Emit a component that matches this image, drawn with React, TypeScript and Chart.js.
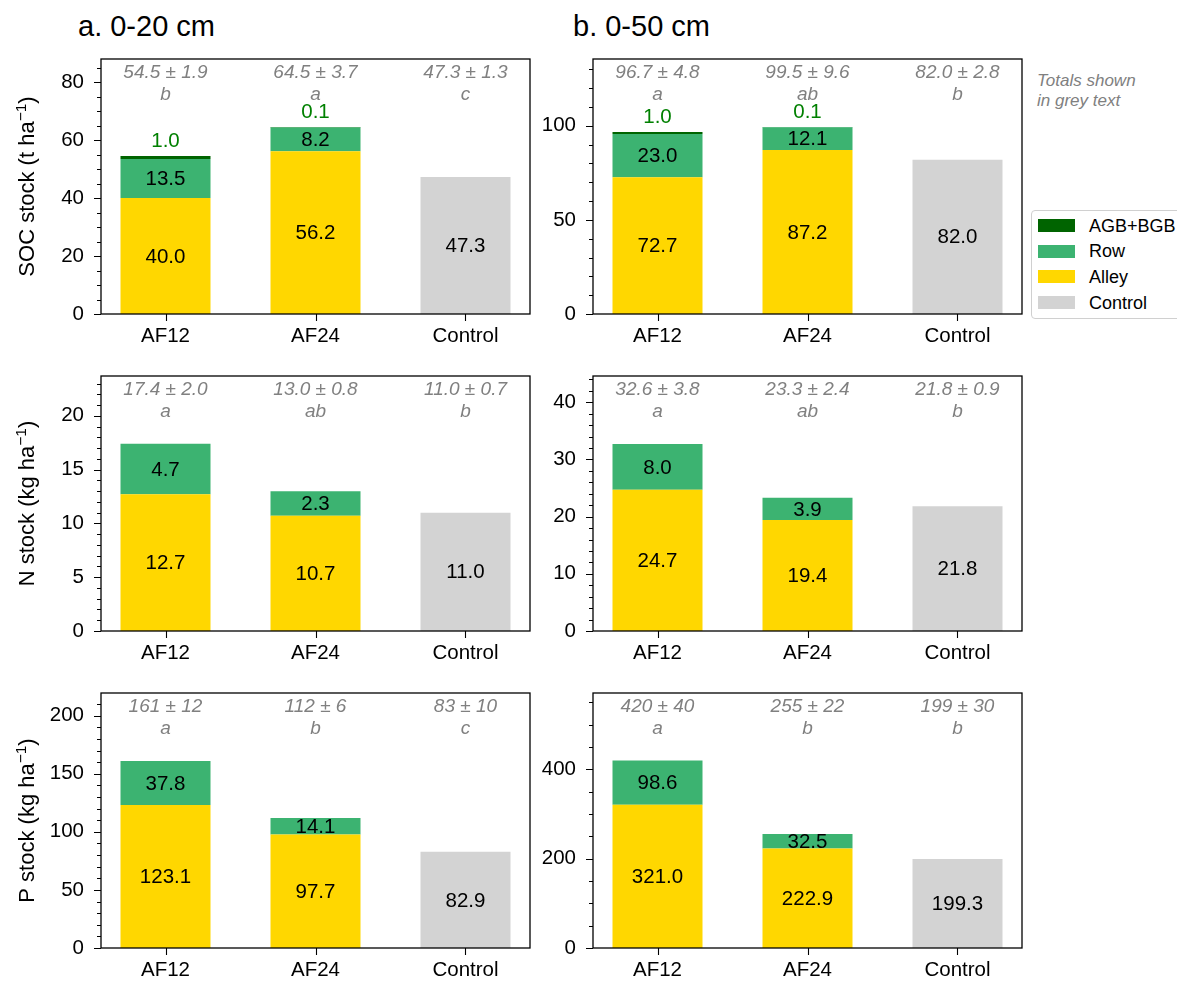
import React, { useEffect, useRef } from 'react';
import { Chart, registerables } from 'chart.js';

Chart.register(...registerables);

const FONT = '"Liberation Sans", Arial, Helvetica, sans-serif';

const CATEGORIES = ['AF12', 'AF24', 'Control'];

// SOC 0-20 cm
const SOC20_ALLEY = [40.0, 56.2, null];
const SOC20_ROW = [13.5, 8.2, null];
const SOC20_AGB = [1.0, 0.1, null];
const SOC20_CONTROL = [null, null, 47.3];
const SOC20_TOTALS = ['54.5 ± 1.9', '64.5 ± 3.7', '47.3 ± 1.3'];
const SOC20_LETTERS = ['b', 'a', 'c'];
const SOC20_TICKS = [0, 20, 40, 60, 80];

// SOC 0-50 cm
const SOC50_ALLEY = [72.7, 87.2, null];
const SOC50_ROW = [23.0, 12.1, null];
const SOC50_AGB = [1.0, 0.1, null];
const SOC50_CONTROL = [null, null, 82.0];
const SOC50_TOTALS = ['96.7 ± 4.8', '99.5 ± 9.6', '82.0 ± 2.8'];
const SOC50_LETTERS = ['a', 'ab', 'b'];
const SOC50_TICKS = [0, 50, 100];

// N 0-20 cm
const N20_ALLEY = [12.7, 10.7, null];
const N20_ROW = [4.7, 2.3, null];
const N20_CONTROL = [null, null, 11.0];
const N20_TOTALS = ['17.4 ± 2.0', '13.0 ± 0.8', '11.0 ± 0.7'];
const N20_LETTERS = ['a', 'ab', 'b'];
const N20_TICKS = [0, 5, 10, 15, 20];

// N 0-50 cm
const N50_ALLEY = [24.7, 19.4, null];
const N50_ROW = [8.0, 3.9, null];
const N50_CONTROL = [null, null, 21.8];
const N50_TOTALS = ['32.6 ± 3.8', '23.3 ± 2.4', '21.8 ± 0.9'];
const N50_LETTERS = ['a', 'ab', 'b'];
const N50_TICKS = [0, 10, 20, 30, 40];

// P 0-20 cm
const P20_ALLEY = [123.1, 97.7, null];
const P20_ROW = [37.8, 14.1, null];
const P20_CONTROL = [null, null, 82.9];
const P20_TOTALS = ['161 ± 12', '112 ± 6', '83 ± 10'];
const P20_LETTERS = ['a', 'b', 'c'];
const P20_TICKS = [0, 50, 100, 150, 200];

// P 0-50 cm
const P50_ALLEY = [321.0, 222.9, null];
const P50_ROW = [98.6, 32.5, null];
const P50_CONTROL = [null, null, 199.3];
const P50_TOTALS = ['420 ± 40', '255 ± 22', '199 ± 30'];
const P50_LETTERS = ['a', 'b', 'b'];
const P50_TICKS = [0, 200, 400];

const COLOR_ALLEY = '#FFD700';
const COLOR_ROW = '#3CB371';
const COLOR_AGB = '#006400';
const COLOR_CONTROL = '#D3D3D3';

type PanelProps = {
  alley: (number | null)[];
  row: (number | null)[];
  agb?: (number | null)[];
  control: (number | null)[];
  totals: string[];
  letters: string[];
  ticks: number[];
  minorStep: number;
  yMax: number;
  yTitle?: string;
  left: number;
  top: number;
};

const PLOT_W = 429;
const PLOT_H = 255;
const AX_W = 100;
const PAD_T = 32;
const PAD_R = 10;
const AX_H = 50;
const FS = 20.5;

function Panel(p: PanelProps) {
  const ref = useRef<HTMLCanvasElement | null>(null);
  useEffect(() => {
    const canvas = ref.current;
    if (!canvas) return;
    const toPts = (arr: (number | null)[]) => arr.map((v, i) => ({ x: i, y: v }));
    const datasets: any[] = [
      { label: 'Alley', data: toPts(p.alley), backgroundColor: COLOR_ALLEY },
      { label: 'Row', data: toPts(p.row), backgroundColor: COLOR_ROW },
    ];
    if (p.agb) datasets.push({ label: 'AGB+BGB', data: toPts(p.agb), backgroundColor: COLOR_AGB });
    datasets.push({ label: 'Control', data: toPts(p.control), backgroundColor: COLOR_CONTROL });
    datasets.forEach((d) => {
      d.categoryPercentage = 1;
      d.barPercentage = 0.6;
      d.borderWidth = 0;
    });

    const decor = {
      id: 'decor',
      afterDraw(chart: any) {
        const { ctx, chartArea: a, scales } = chart;
        const xs = scales.x;
        const ys = scales.y;
        ctx.save();
        ctx.textAlign = 'center';
        ctx.textBaseline = 'middle';
        // segment labels
        ctx.font = `${FS}px ${FONT}`;
        ctx.fillStyle = '#000';
        const labelled: [number, (number | null)[]][] = [
          [0, p.alley],
          [1, p.row],
          [datasets.length - 1, p.control],
        ];
        labelled.forEach(([di, vals]) => {
          const meta = chart.getDatasetMeta(di);
          meta.data.forEach((el: any, i: number) => {
            const v = vals[i];
            if (v == null) return;
            const { x, y, base } = el.getProps(['x', 'y', 'base'], true);
            ctx.fillText(v.toFixed(1), x, (y + base) / 2 + 1);
          });
        });
        // AGB labels above bars
        if (p.agb) {
          ctx.fillStyle = '#008000';
          const meta = chart.getDatasetMeta(2);
          meta.data.forEach((el: any, i: number) => {
            const v = p.agb![i];
            if (v == null) return;
            const { x, y } = el.getProps(['x', 'y'], true);
            ctx.fillText(v.toFixed(1), x, y - 15);
          });
        }
        // totals + letters
        ctx.fillStyle = '#808080';
        ctx.font = `italic 19px ${FONT}`;
        CATEGORIES.forEach((_, i) => {
          const x = xs.getPixelForValue(i);
          ctx.fillText(p.totals[i], x, a.top + 14);
          ctx.fillText(p.letters[i], x, a.top + 36);
        });
        // spines
        ctx.strokeStyle = '#000';
        ctx.lineWidth = 1.3;
        ctx.strokeRect(a.left, a.top, a.right - a.left, a.bottom - a.top);
        // y ticks (major + minor)
        ctx.lineWidth = 1.1;
        ctx.beginPath();
        const n = Math.floor(p.yMax / p.minorStep + 1e-9);
        for (let k = 0; k <= n; k++) {
          const v = k * p.minorStep;
          const major = p.ticks.some((t) => Math.abs(t - v) < 1e-6);
          const py = Math.round(ys.getPixelForValue(v)) + 0.5;
          const len = major ? 7 : 4;
          ctx.moveTo(a.left - len, py);
          ctx.lineTo(a.left, py);
        }
        CATEGORIES.forEach((_, i) => {
          const px = Math.round(xs.getPixelForValue(i)) + 0.5;
          ctx.moveTo(px, a.bottom);
          ctx.lineTo(px, a.bottom + 7);
        });
        ctx.stroke();
        // y title with superscript
        if (p.yTitle) {
          ctx.save();
          ctx.translate(33, (a.top + a.bottom) / 2);
          ctx.rotate(-Math.PI / 2);
          ctx.fillStyle = '#000';
          ctx.textAlign = 'left';
          ctx.textBaseline = 'alphabetic';
          const big = `22px ${FONT}`;
          const small = `15.5px ${FONT}`;
          ctx.font = big;
          const w1 = ctx.measureText(p.yTitle).width;
          const w3 = ctx.measureText(')').width;
          ctx.font = small;
          const sup = '\u22121';
          const w2 = ctx.measureText(sup).width;
          let x0 = -(w1 + w2 + w3) / 2;
          ctx.font = big;
          ctx.fillText(p.yTitle, x0, 0);
          x0 += w1;
          ctx.font = small;
          ctx.fillText(sup, x0, -8.5);
          x0 += w2;
          ctx.font = big;
          ctx.fillText(')', x0, 0);
          ctx.restore();
        }
        ctx.restore();
      },
    };

    const chart = new Chart(canvas, {
      type: 'bar',
      data: { datasets },
      options: {
        animation: false,
        responsive: false,
        devicePixelRatio: 1,
        layout: { padding: { top: PAD_T, right: PAD_R, left: 0, bottom: 0 } },
        plugins: { legend: { display: false }, tooltip: { enabled: false } },
        scales: {
          x: {
            type: 'linear',
            stacked: true,
            bounds: 'data',
            min: -0.43,
            max: 2.43,
            offset: false,
            grid: { display: false, drawTicks: false },
            border: { display: false },
            afterBuildTicks: (s: any) => {
              s.ticks = CATEGORIES.map((_, i) => ({ value: i }));
            },
            afterFit: (s: any) => {
              s.height = AX_H;
            },
            ticks: {
              color: '#000',
              font: { family: FONT, size: FS },
              padding: 10,
              maxRotation: 0,
              autoSkip: false,
              callback: (v: any) => CATEGORIES[v] ?? '',
            },
          },
          y: {
            type: 'linear',
            stacked: true,
            bounds: 'data',
            min: 0,
            max: p.yMax,
            grid: { display: false, drawTicks: false },
            border: { display: false },
            afterBuildTicks: (s: any) => {
              s.ticks = p.ticks.map((v) => ({ value: v }));
            },
            afterFit: (s: any) => {
              s.width = AX_W;
            },
            ticks: {
              color: '#000',
              font: { family: FONT, size: FS },
              padding: 17,
              callback: (v: any) => String(v),
            },
          },
        },
      },
      plugins: [decor],
    });
    return () => chart.destroy();
  }, []);

  return (
    <canvas
      ref={ref}
      width={PLOT_W + AX_W + PAD_R}
      height={PLOT_H + PAD_T + AX_H}
      style={{
        position: 'absolute',
        left: p.left - AX_W,
        top: p.top - PAD_T,
        width: PLOT_W + AX_W + PAD_R,
        height: PLOT_H + PAD_T + AX_H,
      }}
    />
  );
}

const COL_LEFT = [101, 593];
const ROW_TOP = [59, 376, 693];

const LEGEND_ITEMS = [
  { label: 'AGB+BGB', color: COLOR_AGB },
  { label: 'Row', color: COLOR_ROW },
  { label: 'Alley', color: COLOR_ALLEY },
  { label: 'Control', color: COLOR_CONTROL },
];

export default function App() {
  return (
    <div
      style={{
        position: 'absolute',
        left: 0,
        top: 0,
        width: 1177,
        height: 985,
        overflow: 'hidden',
        background: '#fff',
        fontFamily: FONT,
      }}
    >
      <div style={{ position: 'absolute', left: 78, top: 12, fontSize: 29, lineHeight: '29px', color: '#000', whiteSpace: 'nowrap' }}>
        a. 0-20 cm
      </div>
      <div style={{ position: 'absolute', left: 573, top: 12, fontSize: 29, lineHeight: '29px', color: '#000', whiteSpace: 'nowrap' }}>
        b. 0-50 cm
      </div>

      <Panel alley={SOC20_ALLEY} row={SOC20_ROW} agb={SOC20_AGB} control={SOC20_CONTROL} totals={SOC20_TOTALS} letters={SOC20_LETTERS} ticks={SOC20_TICKS} minorStep={5} yMax={88} yTitle="SOC stock (t ha" left={COL_LEFT[0]} top={ROW_TOP[0]} />
      <Panel alley={SOC50_ALLEY} row={SOC50_ROW} agb={SOC50_AGB} control={SOC50_CONTROL} totals={SOC50_TOTALS} letters={SOC50_LETTERS} ticks={SOC50_TICKS} minorStep={10} yMax={135.5} left={COL_LEFT[1]} top={ROW_TOP[0]} />
      <Panel alley={N20_ALLEY} row={N20_ROW} control={N20_CONTROL} totals={N20_TOTALS} letters={N20_LETTERS} ticks={N20_TICKS} minorStep={1} yMax={23.7} yTitle="N stock (kg ha" left={COL_LEFT[0]} top={ROW_TOP[1]} />
      <Panel alley={N50_ALLEY} row={N50_ROW} control={N50_CONTROL} totals={N50_TOTALS} letters={N50_LETTERS} ticks={N50_TICKS} minorStep={2} yMax={44.6} left={COL_LEFT[1]} top={ROW_TOP[1]} />
      <Panel alley={P20_ALLEY} row={P20_ROW} control={P20_CONTROL} totals={P20_TOTALS} letters={P20_LETTERS} ticks={P20_TICKS} minorStep={10} yMax={219.5} yTitle="P stock (kg ha" left={COL_LEFT[0]} top={ROW_TOP[2]} />
      <Panel alley={P50_ALLEY} row={P50_ROW} control={P50_CONTROL} totals={P50_TOTALS} letters={P50_LETTERS} ticks={P50_TICKS} minorStep={50} yMax={571} left={COL_LEFT[1]} top={ROW_TOP[2]} />

      <div style={{ position: 'absolute', left: 1037, top: 71, fontSize: 17, lineHeight: '20px', fontStyle: 'italic', color: '#808080', whiteSpace: 'nowrap' }}>
        Totals shown
        <br />
        in grey text
      </div>

      <div
        style={{
          position: 'absolute',
          left: 1031,
          top: 210,
          width: 170,
          height: 109,
          boxSizing: 'border-box',
          border: '1px solid #d0d0d0',
          borderRadius: 4,
          background: '#fff',
        }}
      >
        {LEGEND_ITEMS.map((it, i) => {
          const c = 14.5 + i * 25.7;
          return (
            <React.Fragment key={it.label}>
              <div style={{ position: 'absolute', left: 6, top: c - 6.5, width: 37, height: 13, background: it.color }} />
              <div style={{ position: 'absolute', left: 57, top: c - 10, fontSize: 18, lineHeight: '20px', color: '#000', whiteSpace: 'nowrap' }}>
                {it.label}
              </div>
            </React.Fragment>
          );
        })}
      </div>
    </div>
  );
}
